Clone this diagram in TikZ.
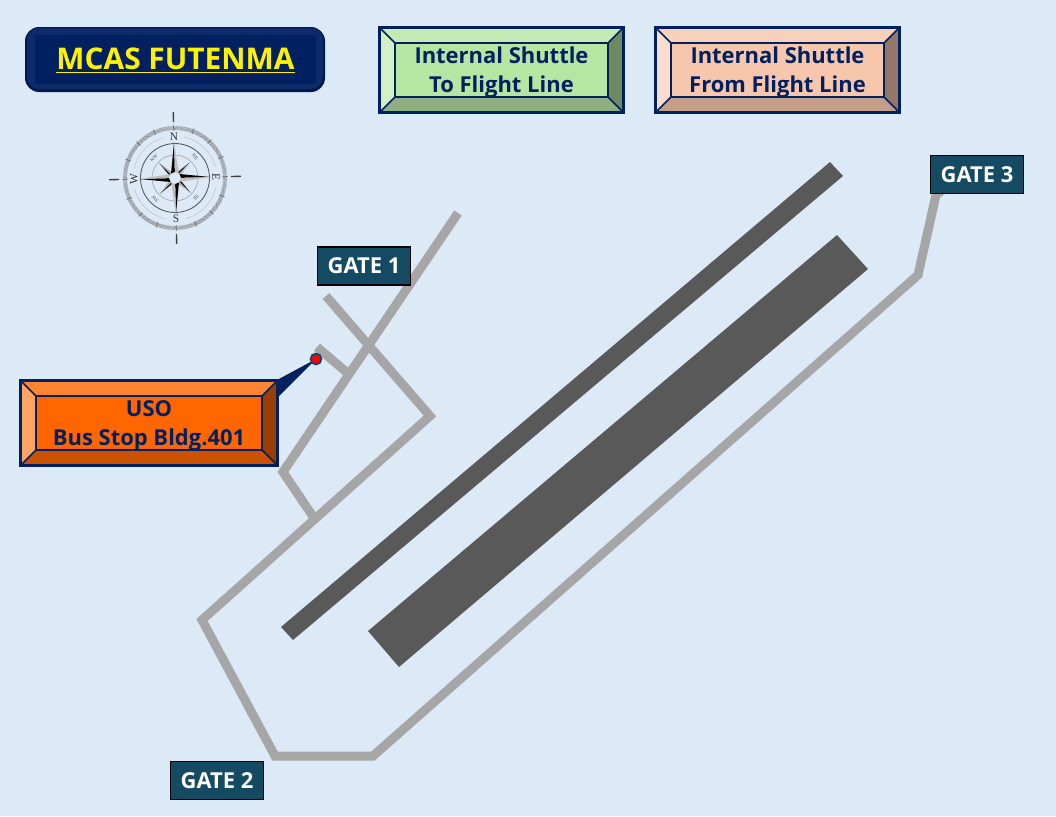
\documentclass[tikz,border=0pt]{standalone}
\usepackage{fontspec}
\usetikzlibrary{calc}
\setmainfont{Open Sans}
\newfontfamily\compassfont{Liberation Serif}
\definecolor{bgblue}{HTML}{DCE9F6}
\definecolor{navy}{HTML}{002060}
\definecolor{road}{HTML}{A6A6A6}
\definecolor{runway}{HTML}{595959}
\definecolor{gatecol}{HTML}{154A63}
\definecolor{gmain}{HTML}{B5E6A2}
\definecolor{pmain}{HTML}{F6C6AD}
\definecolor{omain}{HTML}{FF6600}
\tikzset{
  roadline/.style={road, line width=0.18cm, line join=miter},
  runwayfill/.style={fill=runway},
  gatebox/.style={draw=black, line width=0.8pt, fill=gatecol, text=white, font=\fontsize{12.5}{15}\selectfont\bfseries,
    minimum width=1.86cm, minimum height=0.76cm, inner sep=0pt},
  bevelbox/.style={minimum height=1.68cm, inner sep=0pt},
  bevellabel/.style={text=navy, font=\fontsize{12.5}{16.4}\selectfont\bfseries, align=center, inner sep=0pt},
  compasslabel/.style={font=\fontsize{6.5}{7}\selectfont\compassfont, text=black!80, inner sep=0pt},
}
% node name, top, left, bottom, right
\newcommand\bevels[5]{%
  \fill[#2] (#1.north west) -- (#1.north east) -- ($(#1.north east)+(-15,15)$) -- ($(#1.north west)+(15,15)$) -- cycle;
  \fill[#3] (#1.north west) -- (#1.south west) -- ($(#1.south west)+(15,-15)$) -- ($(#1.north west)+(15,15)$) -- cycle;
  \fill[#4] (#1.south west) -- (#1.south east) -- ($(#1.south east)+(-15,-15)$) -- ($(#1.south west)+(15,-15)$) -- cycle;
  \fill[#5] (#1.north east) -- (#1.south east) -- ($(#1.south east)+(-15,-15)$) -- ($(#1.north east)+(-15,15)$) -- cycle;
  \draw[navy, line width=1.4pt] (#1.north west) rectangle (#1.south east);
  \draw[navy, line width=1pt] ($(#1.north west)+(15,15)$) rectangle ($(#1.south east)+(-15,-15)$);
  \draw[navy, line width=0.9pt] (#1.north west) -- ++(15,15) (#1.north east) -- ++(-15,15)
    (#1.south west) -- ++(15,-15) (#1.south east) -- ++(-15,-15);
}
\begin{document}
\begin{tikzpicture}[x=0.02cm, y=-0.02cm]
\useasboundingbox[fill=bgblue] (0,0) rectangle (1056,816);
%
% runways
\fill[runwayfill] (830,162) -- (843,176) -- (293,640) -- (281,627) -- cycle;
\fill[runwayfill] (837,235) -- (868,269) -- (399,667) -- (368,631) -- cycle;
%
% roads
\draw[roadline] (458,213) -- (283,472) -- (314,518);
\draw[roadline] (326,296) -- (430,416) -- (202,620) -- (275,756) -- (373,756) -- (918,275) -- (936,195) -- (946,187);
\draw[roadline] (317,347) -- (351,376);
%
% title
\fill[navy!80!black, rounded corners=8pt] (25,27) rectangle (325,92);
\fill[navy!95!white, rounded corners=7pt] (27,28) rectangle (323,89);
\fill[navy] (35,35) rectangle (316,84);
\node[text=yellow, font=\fontsize{17}{20}\selectfont\bfseries, inner sep=0pt] (title) at (175.5,61) {\underline{MCAS FUTENMA}};
%
% shuttle legends
\node[bevelbox, fill=gmain, minimum width=4.86cm] (toline) at (501.5,70) {};
\bevels{toline}{gmain!80!white}{gmain!60!white}{gmain!80!black!85!gray}{gmain!60!black}
\node[bevellabel] (tolinetext) at (501.5,72) {Internal Shuttle\\To Flight Line};
%
\node[bevelbox, fill=pmain, minimum width=4.86cm] (fromline) at (777.5,70) {};
\bevels{fromline}{pmain!80!white}{pmain!60!white}{pmain!80!black}{pmain!60!black}
\node[bevellabel] (fromlinetext) at (777.5,72) {Internal Shuttle\\From Flight Line};
%
% bus stop with its callout
\coordinate (stop) at (316,359);
\fill[navy] (stop) -- (277,380) -- (278,397) -- cycle;
\node[bevelbox, fill=omain, minimum width=5.12cm] (uso) at (149,423) {};
\bevels{uso}{omain!80!white}{omain!60!white}{omain!80!black}{omain!60!black}
\node[bevellabel] (usotext) at (149,425.5) {USO\\Bus Stop Bldg.401};
\filldraw[fill=red, draw=gatecol, line width=1pt] (stop) circle (5.5);
%
% gates
\node[gatebox] (gateone) at (364,266) {GATE 1};
\node[gatebox] (gatetwo) at (217,780.5) {GATE 2};
\node[gatebox] (gatethree) at (977,174.5) {GATE 3};
%
% compass
\begin{scope}[shift={(175,178)}, rotate=1.5, yscale=-1]
\foreach \a in {0,1,...,359} \draw[black!50, line width=0.22pt] (\a:48) -- (\a:52);
\foreach \a in {0,22.5,...,337.5} \draw[black!60, line width=0.35pt] (\a:47.5) -- (\a:53);
\foreach \a in {0,90,180,270} \draw[black!75, line width=0.8pt] (\a:56) -- (\a:66);
\draw[black!65, line width=0.5pt] (0,0) circle (34.5);
\draw[black!35, line width=0.35pt] (0,0) circle (23);
\foreach \a in {0,90,180,270} \draw[black!22, line width=0.35pt] (\a+14:42) arc (\a+14:\a+76:42);
% star points
\foreach \a in {45,135,225,315} {
  \fill[black!85] (\a:6) -- (\a:22) -- (\a+22:6) -- cycle;
  \fill[black!30] (\a:6) -- (\a:22) -- (\a-22:6) -- cycle;
}
\foreach \a in {0,90,180,270} {
  \fill[black] (\a:6) -- (\a:36) -- (\a+40:6) -- cycle;
  \fill[black!25] (\a:6) -- (\a:36) -- (\a-40:6) -- cycle;
}
\foreach \a/\t in {45/NE,135/NW,225/SW,315/SE}
  \node[font=\fontsize{2.8}{3}\selectfont\compassfont, text=black!70, inner sep=0pt, rotate=\a-90] (lbl\t) at (\a:29) {\t};
\node[compasslabel] (lblN) at (90:41) {N};
\node[compasslabel] (lblS) at (270:41) {S};
\node[compasslabel, rotate=90] (lblW) at (180:41) {W};
\node[compasslabel, rotate=-90] (lblE) at (0:41) {E};
\end{scope}
\end{tikzpicture}
\end{document}
